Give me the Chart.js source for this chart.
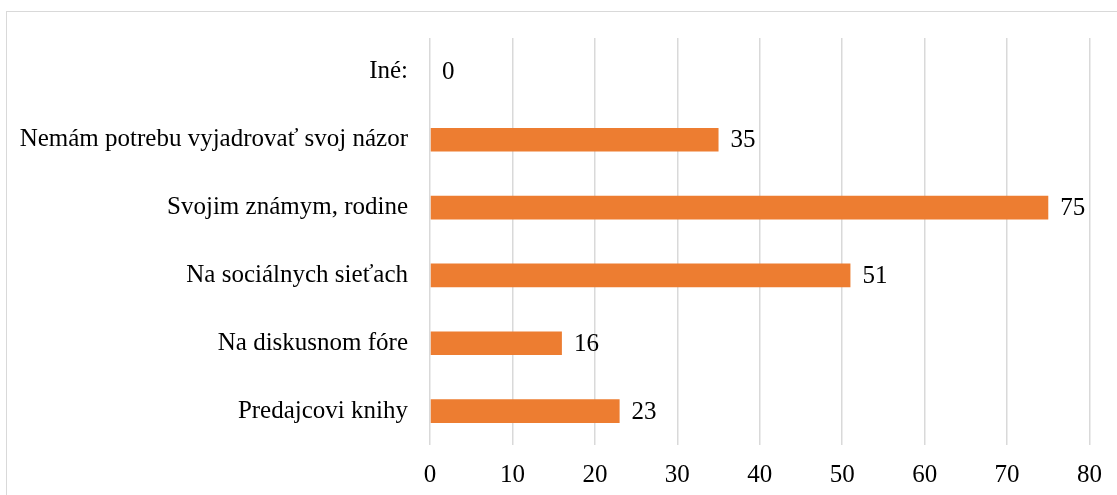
<!DOCTYPE html>
<html>
<head>
<meta charset="utf-8">
<script src="https://cdn.jsdelivr.net/npm/chart.js@4"></script>
<style>
  html, body { margin: 0; padding: 0; background: #fff; }
  #wrap { position: relative; width: 1117px; height: 495px; overflow: hidden; }
  #frame { position: absolute; left: 6px; top: 11px; width: 1200px; height: 600px; border: 1.5px solid #d9d9d9; }
  canvas { position: absolute; left: 0; top: 0; }
</style>
</head>
<body>
<div id="wrap">
  <div id="frame"></div>
  <canvas id="chart" width="1117" height="495"></canvas>
</div>
<script>
const categories = [
  "Iné:",
  "Nemám potrebu vyjadrovať svoj názor",
  "Svojim známym, rodine",
  "Na sociálnych sieťach",
  "Na diskusnom fóre",
  "Predajcovi knihy",
];
const values = [0, 35, 75, 51, 16, 23];
const xTicks = [0, 10, 20, 30, 40, 50, 60, 70, 80];

const FONT = "'Liberation Serif', 'Times New Roman', serif";

// value labels just past the end of each bar
const valueLabels = {
  id: "valueLabels",
  afterDatasetsDraw(chart) {
    const ctx = chart.ctx;
    const meta = chart.getDatasetMeta(0);
    ctx.save();
    ctx.font = "25px " + FONT;
    ctx.fillStyle = "#000";
    ctx.textAlign = "left";
    ctx.textBaseline = "middle";
    meta.data.forEach((bar, i) => {
      ctx.fillText(String(values[i]), bar.x + 12, bar.y + 1);
    });
    ctx.restore();
  },
};

new Chart(document.getElementById("chart"), {
  type: "bar",
  data: {
    labels: categories,
    datasets: [
      {
        data: values,
        backgroundColor: "#ed7d31",
        borderWidth: 0,
        barPercentage: 0.7,
        categoryPercentage: 0.5,
      },
    ],
  },
  options: {
    indexAxis: "y",
    responsive: false,
    animation: false,
    layout: { padding: { top: 38, right: 25, left: 0, bottom: 0 } },
    plugins: {
      legend: { display: false },
      tooltip: { enabled: false },
    },
    scales: {
      x: {
        min: 0,
        max: 80,
        afterBuildTicks: (scale) => {
          scale.ticks = xTicks.map((v) => ({ value: v }));
        },
        afterFit: (scale) => {
          scale.height = 50;
        },
        grid: { color: "#d9d9d9", lineWidth: 1.5, drawTicks: false },
        border: { display: false },
        ticks: {
          padding: 15,
          color: "#000",
          font: { family: FONT, size: 25 },
        },
      },
      y: {
        afterFit: (scale) => {
          scale.width = 430;
        },
        grid: { display: false, drawTicks: false },
        border: { display: false },
        ticks: {
          padding: 22,
          color: "#000",
          font: { family: FONT, size: 25 },
        },
      },
    },
  },
  plugins: [valueLabels],
});
</script>
</body>
</html>
